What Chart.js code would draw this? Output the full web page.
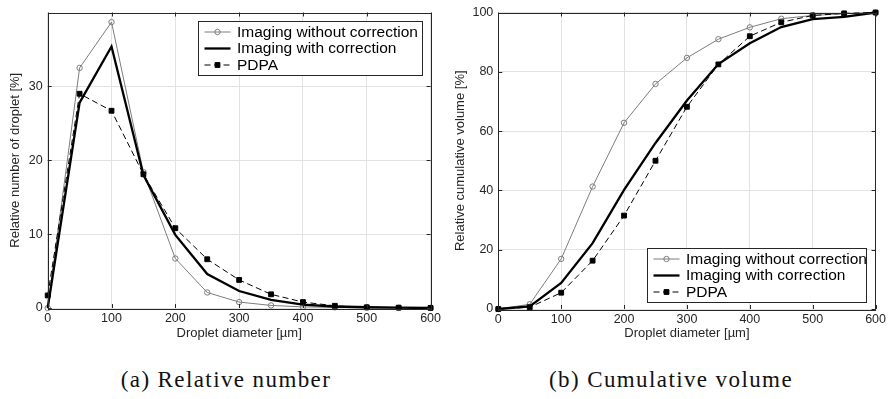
<!DOCTYPE html>
<html>
<head>
<meta charset="utf-8">
<script src="https://cdn.jsdelivr.net/npm/chart.js@4.4.0/dist/chart.umd.min.js"></script>
<style>
    body { margin: 0; background: #fff; width: 889px; height: 399px; position: relative; overflow: hidden; }
    .panel { position: absolute; top: 0; }
    .caption {
        position: absolute; top: 367px; line-height: 26px;
        font-family: "Liberation Serif", serif; font-size: 23px; letter-spacing: 1.4px;
        color: #111; white-space: nowrap; transform: translateX(-50%);
    }
</style>
</head>
<body>
<canvas id="numberChart" class="panel" width="444" height="345" style="left:0"></canvas>
<canvas id="volumeChart" class="panel" width="445" height="345" style="left:444px"></canvas>
<div class="caption" style="left:226px">(a) Relative number</div>
<div class="caption" style="left:671px">(b) Cumulative volume</div>

<script>
/* jshint esversion: 6 */

// droplet diameter classes [µm]
const diameters = [0, 50, 100, 150, 200, 250, 300, 350, 400, 450, 500, 550, 600];
const seriesNames = ["Imaging without correction", "Imaging with correction", "PDPA"];

// (a) relative number of droplets [%]
const numberNoCorr = [0, 32.5, 38.7, 18.4, 6.7, 2.1, 0.8, 0.35, 0.15, 0.08, 0.04, 0.02, 0];
const numberCorr = [0, 27.8, 35.4, 18.0, 9.9, 4.6, 2.3, 1.1, 0.45, 0.2, 0.1, 0.05, 0];
const numberPdpa = [1.7, 29.0, 26.7, 18.1, 10.8, 6.6, 3.8, 1.85, 0.8, 0.3, 0.1, 0.05, 0.02];

// (b) relative cumulative volume [%]
const volumeNoCorr = [0, 1.6, 16.9, 41.3, 62.8, 75.9, 84.7, 91.0, 95.0, 97.9, 99.0, 99.6, 100];
const volumeCorr = [0, 0.9, 8.8, 22.2, 40.2, 56.0, 70.3, 82.6, 89.6, 95.1, 97.8, 98.5, 100];
const volumePdpa = [0, 0.6, 5.5, 16.3, 31.5, 50.0, 68.2, 82.5, 92.0, 96.7, 99.0, 99.7, 100];

const xTicks = [0, 100, 200, 300, 400, 500, 600];
const numberTicks = [0, 10, 20, 30];
const volumeTicks = [0, 20, 40, 60, 80, 100];

const axisColor = "#262626";
Chart.defaults.font.family = "'Liberation Sans', Arial, sans-serif";

function toPoints(values) {
    return diameters.map((d, i) => ({ x: d, y: values[i] }));
}

function makeDatasets(noCorr, corr, pdpa) {
    return [
        {
            label: seriesNames[0], data: toPoints(noCorr), order: 3,
            borderColor: "#7d7d7d", borderWidth: 1,
            pointStyle: "circle", pointRadius: 2.7, pointBorderWidth: 1,
            pointBorderColor: "#7d7d7d", pointBackgroundColor: "rgba(255,255,255,0)"
        },
        {
            label: seriesNames[1], data: toPoints(corr), order: 2,
            borderColor: "#000", borderWidth: 2.3, pointRadius: 0
        },
        {
            label: seriesNames[2], data: toPoints(pdpa), order: 1,
            borderColor: "#000", borderWidth: 1, borderDash: [6, 3.5],
            pointStyle: "rect", pointRadius: 3.4, pointBorderWidth: 1,
            pointBorderColor: "#000", pointBackgroundColor: "#000"
        }
    ];
}

// box, inward ticks and boxed legend, matlab style
const framePlugin = {
    id: "frame",
    afterDraw(chart, args, opts) {
        const ctx = chart.ctx;
        const a = chart.chartArea;
        const xs = chart.scales.x, ys = chart.scales.y;
        ctx.save();
        ctx.strokeStyle = axisColor;
        ctx.lineWidth = 1;
        ctx.beginPath();
        xs.ticks.forEach(t => {
            let px = Math.round(xs.getPixelForValue(t.value)) + 0.5;
            ctx.moveTo(px, a.bottom); ctx.lineTo(px, a.bottom - 4);
            ctx.moveTo(px, a.top); ctx.lineTo(px, a.top + 4);
        });
        ys.ticks.forEach(t => {
            let py = Math.round(ys.getPixelForValue(t.value)) + 0.5;
            ctx.moveTo(a.left, py); ctx.lineTo(a.left + 4, py);
            ctx.moveTo(a.right, py); ctx.lineTo(a.right - 4, py);
        });
        ctx.stroke();
        ctx.strokeRect(Math.round(a.left) + 0.5, Math.round(a.top) + 0.5,
            Math.round(a.right - a.left), Math.round(a.bottom - a.top));

        // legend
        const w = opts.width, h = opts.height;
        const x0 = Math.round(a.right - opts.right - w) + 0.5;
        const y0 = Math.round(opts.top !== undefined ? a.top + opts.top : a.bottom - opts.bottom - h) + 0.5;
        ctx.fillStyle = "#fff";
        ctx.fillRect(x0, y0, w, h);
        ctx.strokeStyle = axisColor;
        ctx.strokeRect(x0, y0, w, h);
        ctx.font = "15.5px 'Liberation Sans', Arial, sans-serif";
        ctx.textBaseline = "middle";
        chart.data.datasets.forEach((ds, i) => {
            const ry = y0 + 10.5 + i * 16.5;
            ctx.strokeStyle = ds.borderColor;
            ctx.lineWidth = ds.borderWidth;
            ctx.setLineDash(ds.borderDash || []);
            ctx.beginPath();
            ctx.moveTo(x0 + 6, ry); ctx.lineTo(x0 + 32, ry);
            ctx.stroke();
            ctx.setLineDash([]);
            if (ds.pointRadius > 0) {
                ctx.fillStyle = ds.pointBackgroundColor;
                ctx.strokeStyle = ds.pointBorderColor;
                ctx.lineWidth = ds.pointBorderWidth;
                ctx.beginPath();
                if (ds.pointStyle === "rect") {
                    const s = ds.pointRadius * Math.SQRT1_2;
                    ctx.rect(x0 + 19 - s, ry - s, 2 * s, 2 * s);
                } else {
                    ctx.arc(x0 + 19, ry, ds.pointRadius, 0, Math.PI * 2);
                }
                ctx.fill();
                ctx.stroke();
            }
            ctx.fillStyle = "#000";
            ctx.fillText(ds.label, x0 + 38.5, ry + 0.5);
        });
        ctx.restore();
    }
};

function makeChart(canvasId, datasets, yTicks, yMax, yTitle, fit) {
    return new Chart(document.getElementById(canvasId), {
        type: "line",
        data: { datasets: datasets },
        plugins: [framePlugin],
        options: {
            responsive: false,
            animation: false,
            clip: false,
            layout: { padding: { left: 0, top: fit.top, right: fit.right, bottom: 0 } },
            elements: { line: { tension: 0 } },
            plugins: {
                legend: { display: false },
                tooltip: { enabled: false },
                frame: fit.legend
            },
            scales: {
                x: {
                    type: "linear", min: 0, max: 600,
                    afterBuildTicks: s => { s.ticks = xTicks.map(v => ({ value: v })); },
                    afterFit: s => { s.height = fit.xHeight; },
                    grid: { color: "#e2e2e2", drawTicks: false },
                    border: { display: false },
                    ticks: { padding: 3, color: axisColor, font: { size: 12.5 } },
                    title: {
                        display: true, text: "Droplet diameter [µm]", color: axisColor,
                        font: { size: 13 }, padding: { top: 0, bottom: 4.2 }
                    }
                },
                y: {
                    type: "linear", min: 0, max: yMax,
                    afterBuildTicks: s => { s.ticks = yTicks.map(v => ({ value: v })); },
                    afterFit: s => { s.width = fit.yWidth; },
                    grid: { color: "#e2e2e2", drawTicks: false },
                    border: { display: false },
                    ticks: { padding: 5, color: axisColor, font: { size: 12.5 } },
                    title: {
                        display: true, text: yTitle, color: axisColor,
                        font: { size: 13 }, padding: { top: fit.yTitlePad, bottom: 0 }
                    }
                }
            }
        }
    });
}

makeChart("numberChart", makeDatasets(numberNoCorr, numberCorr, numberPdpa),
    numberTicks, 40, "Relative number of droplet [%]",
    { top: 4.3, right: 11.3, xHeight: 37, yWidth: 47.7, yTitlePad: 7.2,
      legend: { top: 8.7, right: 8.7, width: 224, height: 54 } });

makeChart("volumeChart", makeDatasets(volumeNoCorr, volumeCorr, volumePdpa),
    volumeTicks, 100, "Relative cumulative volume [%]",
    { top: 10.3, right: 11.3, xHeight: 36, yWidth: 54.3, yTitlePad: 8.9,
      legend: { bottom: 7, right: 9.7, width: 219, height: 54 } });
</script>
</body>
</html>
